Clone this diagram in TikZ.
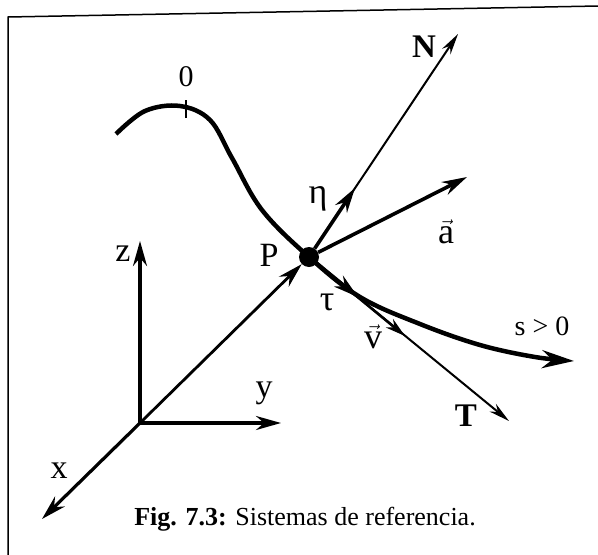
\documentclass[tikz,border=0pt]{standalone}
\usepackage{fontspec}
\setmainfont{Liberation Serif}
\usetikzlibrary{arrows.meta, positioning}

\begin{document}
\begin{tikzpicture}[x=1pt, y=-1pt, >={Stealth[length=25pt, width=14pt]},
    eje/.style={line width=3.2pt, ->},
    fino/.style={line width=2pt, -{Stealth[length=21pt, width=10pt]}},
    grueso/.style={line width=3.6pt, ->},
    lbl/.style={font=\fontsize{34}{34}\selectfont, inner sep=0pt},
    lblb/.style={font=\fontsize{33}{33}\selectfont\bfseries, inner sep=0pt}]
    \useasboundingbox (0,0) rectangle (598,555);

    % Marco
    \draw[line width=1.5pt] (8,555) -- (8,17) -- (598,6);

    % Ejes cartesianos
    \coordinate (O) at (140,423);
    \coordinate (ztip) at (140,241);
    \coordinate (ytip) at (281,423);
    \coordinate (xtip) at (42,519);
    \draw[eje] (O) -- (ztip);
    \draw[eje] (O) -- (ytip);
    \draw[eje] (O) -- (xtip);
    \node[lbl] (zlab) at (123,254) {z};
    \node[lbl] (ylab) at (264,393) {y};
    \node[lbl] (xlab) at (59,471) {x};

    % Trayectoria
    \draw[line width=4.5pt, -{Stealth[length=32pt, width=18pt]}] plot[smooth, tension=0.6] coordinates
        {(116,134) (145,111) (180,106) (210,120) (232,158) (262,210) (309,257)
         (360,297) (420,324) (480,345) (535,357) (574,361)};
    \coordinate (cero) at (186,109);
    \draw[line width=2pt] ([yshift=-9pt]cero) -- ([yshift=9pt]cero);
    \node[lbl, font=\fontsize{30}{30}\selectfont] (ceroLab) at (186,77) {0};
    \node[lbl, font=\fontsize{28}{28}\selectfont] (sLab) at (542,326) {s > 0};

    % Punto P y vector de posicion
    \node[circle, fill, inner sep=0pt, minimum size=20pt] (P) at (309,257) {};
    \node[lbl] (PLab) at (269,255) {P};
    \draw[line width=2.8pt, ->] (O) -- (P);

    % Triedro intrinseco
    \coordinate (Ntip) at (458,34);
    \coordinate (Ttip) at (509,421);
    \coordinate (etatip) at (355,188);
    \coordinate (atip) at (467,177);
    \coordinate (tautip) at (358,297);
    \coordinate (vtip) at (405,336);
    \draw[fino] (P) -- (Ntip);
    \draw[fino] (P) -- (Ttip);
    \draw[grueso] (P) -- (etatip);
    \draw[grueso] (P) -- (atip);
    \draw[grueso] (P) -- (tautip);
    \draw[line width=2.6pt, -{Stealth[length=20pt, width=11pt]}] (P) -- (vtip);
    \node[lblb] (NLab) at (424,47) {N};
    \node[lblb] (TLab) at (466,416) {T};
    \node[lbl, font=\fontsize{36}{36}\selectfont] (etaLab) at (318,199) {η};
    \node[lbl, font=\fontsize{36}{36}\selectfont] (tauLab) at (327,302) {τ};
    \node[lbl, font=\fontsize{36}{36}\selectfont] (aLab) at (446,232) {$\vec{\mbox{a}}$};
    \node[lbl, font=\fontsize{36}{36}\selectfont] (vLab) at (373,337) {$\vec{\mbox{v}}$};

    % Pie de figura
    \node[font=\fontsize{26}{26}\selectfont, inner sep=0pt] (pie) at (305,519)
        {\textbf{Fig. 7.3:} Sistemas de referencia.};
\end{tikzpicture}
\end{document}
